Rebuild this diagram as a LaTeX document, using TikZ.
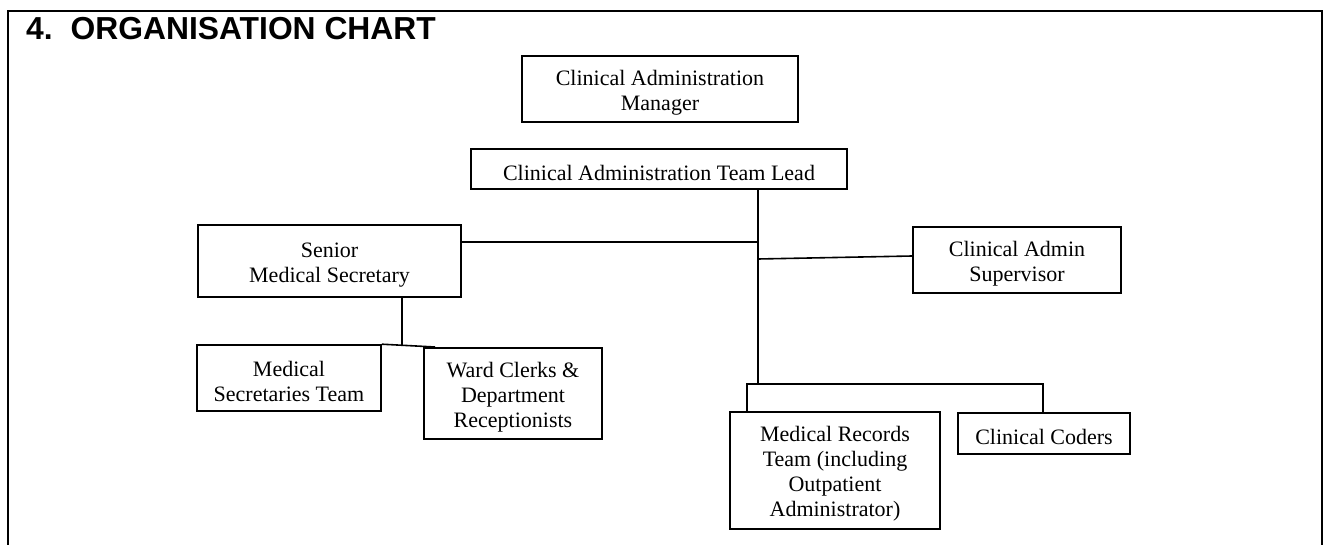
\documentclass[tikz,border=0pt]{standalone}
\usepackage{fontspec}
\setmainfont{Liberation Serif}
\newfontfamily\titlefont{Liberation Sans}
\newcommand\myLift{\rule{0pt}{22.5pt}}
\begin{document}
\begin{tikzpicture}[x=1pt,y=-1pt,
  box/.style={draw, line width=1.6pt, inner sep=0pt, align=center,
    font=\fontsize{22}{25}\selectfont},
  conn/.style={line width=1.6pt},
  frame/.style={line width=2.6pt}]
\useasboundingbox (0,0) rectangle (1326,545);
\draw[frame] (8,545) -- (8,11) -- (1322,11) -- (1322,545);
\node[anchor=base west, inner sep=0pt, font=\titlefont\bfseries\fontsize{31.8}{33}\selectfont] (title) at (26,40) {4.\hspace{18pt}ORGANISATION CHART};

\node[box, minimum width=276pt, minimum height=66pt] (M) at (660,89) {\myLift Clinical Administration\\Manager};
\node[box, minimum width=376pt, minimum height=40pt] (TL) at (659,169) {\myLift Clinical Administration Team Lead};
\node[box, minimum width=263pt, minimum height=72pt] (SMS) at (329.5,261) {\myLift Senior\\Medical Secretary};
\node[box, minimum width=208pt, minimum height=66pt] (CAS) at (1017,260) {\myLift Clinical Admin\\Supervisor};
\node[box, minimum width=184pt, minimum height=66pt] (MST) at (289,378) {\myLift Medical\\Secretaries Team};
\node[box, minimum width=178pt, minimum height=91pt] (WC) at (513,393.5) {\myLift Ward Clerks \&\\Department\\Receptionists};
\node[box, minimum width=210pt, minimum height=117pt] (MRT) at (835,470.5) {\myLift Medical Records\\Team (including\\Outpatient\\Administrator)};
\node[box, minimum width=172pt, minimum height=41pt] (CC) at (1044,433.5) {\myLift Clinical Coders};

\coordinate (sp) at (758,384);
\coordinate (bl) at (747,384);
\coordinate (br) at (1043,384);
\coordinate (j1) at (758,242);
\coordinate (j2) at (758,259);
\coordinate (k1) at (402,346);
\coordinate (k2) at (435,347);

\draw[conn] (TL.south -| sp) -- (sp);
\draw[conn] (j1) -- (j1 -| SMS.east);
\draw[conn] (j2) -- ([yshift=4pt]CAS.west);
\draw[conn] (bl |- MRT.north) -- (bl) -- (br) -- (br |- CC.north);
\draw[conn] (SMS.south -| k1) -- (k1);
\draw[conn] (MST.north east) -- (k2);
\end{tikzpicture}
\end{document}
